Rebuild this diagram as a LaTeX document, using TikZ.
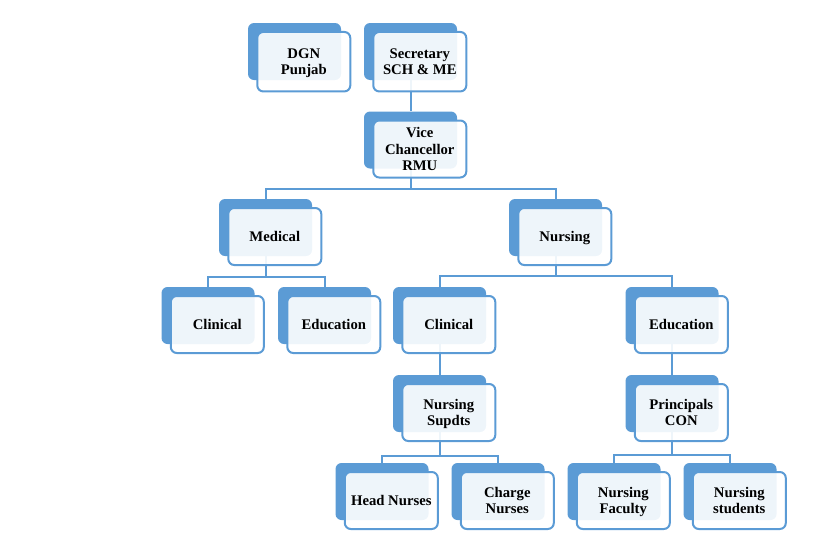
\documentclass[tikz,border=0pt]{standalone}
\usepackage{fontspec}
\setmainfont{Liberation Serif}
\usetikzlibrary{backgrounds}
\definecolor{acc}{HTML}{5B9BD5}
\tikzset{
 backbox/.style={rectangle, rounded corners=6pt, fill=acc, minimum width=93pt, minimum height=57pt, inner sep=0pt},
 frontbox/.style={rectangle, rounded corners=6pt, draw=acc, line width=2pt, fill=white, fill opacity=0.9, text opacity=1, minimum width=93pt, minimum height=57pt, inner sep=0pt, align=center, text depth=0pt, font=\fontsize{14.7}{16.2}\selectfont\bfseries},
 conn/.style={draw=acc, line width=2pt},
}
\newcommand\orgbox[5][]{%
 \node[backbox] (#2B) at (#3+46.5, #4+28.5) {};
 \node[frontbox,#1] (#2) at (#3+55.8, #4+37.5) {#5};
}
\begin{document}
\begin{tikzpicture}[x=1pt,y=-1pt]
\useasboundingbox (0,0) rectangle (840,552);
\orgbox[minimum height=59.5pt, yshift=-1.2pt]{dgn}{248}{23}{DGN\\Punjab}
\orgbox[minimum height=59.5pt, yshift=-1.2pt]{sec}{364}{23}{Secretary\\SCH \& ME}
\orgbox{vc}{364}{111.5}{Vice\\Chancellor\\RMU}
\orgbox{med}{219}{199}{Medical}
\orgbox{nur}{509}{199}{Nursing}
\orgbox{medcl}{161.5}{287}{Clinical}
\orgbox{meded}{278}{287}{Education}
\orgbox{nurcl}{393}{287}{Clinical}
\orgbox{nured}{625.5}{287}{Education}
\orgbox{sup}{393}{375}{Nursing\\Supdts}
\orgbox{pri}{625.5}{375}{Principals\\CON}
\orgbox{head}{335.5}{463}{Head Nurses}
\orgbox{charge}{451.5}{463}{Charge\\Nurses}
\orgbox{fac}{567.5}{463}{Nursing\\Faculty}
\orgbox{stu}{683.5}{463}{Nursing\\students}
\coordinate (bar1) at (0,188.5);
\coordinate (bar2) at (0,277);
\coordinate (bar3) at (0,276);
\coordinate (bar4) at (0,455.5);
\coordinate (bar5) at (0,455);
\begin{pgfonlayer}{background}
\draw[conn] (secB.south) -- (vcB.north);
\draw[conn] (vcB.south) -- (vcB.south |- bar1);
\draw[conn] (medB.north) -- (medB.north |- bar1) -- (nurB.north |- bar1) -- (nurB.north);
\draw[conn] (medB.south) -- (medB.south |- bar2);
\draw[conn] (medclB.north) -- (medclB.north |- bar2) -- (mededB.north |- bar2) -- (mededB.north);
\draw[conn] (nurB.south) -- (nurB.south |- bar3);
\draw[conn] (nurclB.north) -- (nurclB.north |- bar3) -- (nuredB.north |- bar3) -- (nuredB.north);
\draw[conn] (nurclB.south) -- (supB.north);
\draw[conn] (nuredB.south) -- (priB.north);
\draw[conn] (supB.south) -- (supB.south |- bar4);
\draw[conn] (headB.north) -- (headB.north |- bar4) -- (chargeB.north |- bar4) -- (chargeB.north);
\draw[conn] (priB.south) -- (priB.south |- bar5);
\draw[conn] (facB.north) -- (facB.north |- bar5) -- (stuB.north |- bar5) -- (stuB.north);
\end{pgfonlayer}
\end{tikzpicture}
\end{document}
